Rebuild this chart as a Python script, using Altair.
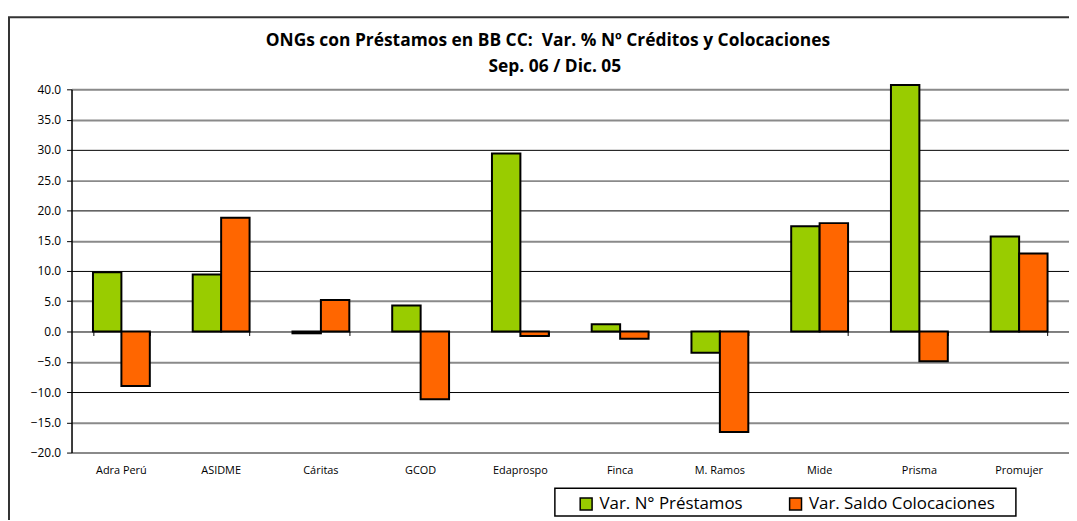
import altair as alt
import pandas as pd

categories = ["Adra Perú", "ASIDME", "Cáritas", "GCOD", "Edaprospo",
              "Finca", "M. Ramos", "Mide", "Prisma", "Promujer"]
series_names = ["Var. N° Préstamos", "Var. Saldo Colocaciones"]
prestamos = [9.8, 9.4, -0.3, 4.3, 29.4, 1.2, -3.5, 17.4, 40.7, 15.7]
saldo = [-9.0, 18.8, 5.2, -11.2, -0.75, -1.2, -16.6, 17.9, -4.9, 12.9]
y_ticks = [-20, -15, -10, -5, 0, 5, 10, 15, 20, 25, 30, 35, 40]
colors = ["#99CC00", "#FF6600"]
title_lines = ["ONGs con Préstamos en BB CC:\u00a0 Var. % Nº Créditos y Colocaciones",
               "Sep. 06 / Dic. 05"]

rows = []
for c, p, s in zip(categories, prestamos, saldo):
    rows.append({"ong": c, "serie": series_names[0], "valor": p})
    rows.append({"ong": c, "serie": series_names[1], "valor": s})
df = pd.DataFrame(rows)

W, H = 1005, 366
FONT = "Open Sans"
zero_px = H * 40 / 60

x_scale = alt.Scale(domain=categories, paddingInner=0.43, paddingOuter=0.215)
grid_test = "datum.value % 10 === 0 && datum.value > -20 && datum.value < 40"

frame = alt.Chart().mark_rect(fillOpacity=0, stroke="#333333", strokeWidth=2).encode(
    x=alt.value(-63), x2=alt.value(1200), y=alt.value(-72.5), y2=alt.value(700)
)
legend_box = alt.Chart().mark_rect(fillOpacity=0, stroke="black", strokeWidth=1.5).encode(
    x=alt.value(487), x2=alt.value(951.5), y=alt.value(402), y2=alt.value(430)
)
title1 = alt.Chart().mark_text(font=FONT, fontSize=17.5, fontWeight="bold", color="black",
                               align="center", baseline="middle").encode(
    x=alt.value(480), y=alt.value(-49), text=alt.value(title_lines[0])
)
title2 = alt.Chart().mark_text(font=FONT, fontSize=17.5, fontWeight="bold", color="black",
                               align="center", baseline="middle").encode(
    x=alt.value(487), y=alt.value(-22.5), text=alt.value(title_lines[1])
)

bars = alt.Chart(df).mark_bar(stroke="black", strokeWidth=2).encode(
    x=alt.X("ong:N", scale=x_scale, sort=categories,
            axis=alt.Axis(title=None, orient="bottom", labelAngle=0, labelFontSize=11,
                          labelColor="black", labelFont=FONT, labelPadding=12,
                          ticks=False, domain=False, grid=False)),
    xOffset=alt.XOffset("serie:N", sort=series_names,
                        scale=alt.Scale(domain=series_names, paddingInner=0, paddingOuter=0)),
    y=alt.Y("valor:Q", scale=alt.Scale(domain=[-20, 40], nice=False, zero=False),
            axis=alt.Axis(title=None, values=y_ticks, format=".1f", labelFontSize=12,
                          labelFont=FONT, labelColor="black", labelPadding=6,
                          tickColor="black", tickSize=5, tickWidth=1,
                          domainColor="black", domainWidth=1.5,
                          grid=True,
                          gridColor={"condition": {"test": grid_test, "value": "black"},
                                     "value": "#8a8a8a"},
                          gridWidth={"condition": {"test": grid_test, "value": 1},
                                     "value": 2},
                          gridOpacity=1)),
    color=alt.Color("serie:N", sort=series_names,
                    scale=alt.Scale(domain=series_names, range=colors),
                    legend=alt.Legend(title=None, orient="none", legendX=510, legendY=409,
                                      direction="horizontal", symbolType="square",
                                      symbolSize=144, symbolStrokeColor="black",
                                      symbolStrokeWidth=1.5, symbolOpacity=1,
                                      labelFontSize=17, labelFont=FONT, labelColor="black",
                                      labelLimit=400, labelOffset=5, columnPadding=43,
                                      padding=0)),
)

zero_axis = alt.Chart(df).mark_point(opacity=0).encode(
    x=alt.X("ong:N", scale=x_scale, sort=categories,
            axis=alt.Axis(title=None, orient="bottom", offset=-(H - zero_px), labels=False,
                          domain=False, ticks=True, tickSize=4, tickColor="black",
                          tickWidth=1, tickBand="extent", grid=False)),
    y=alt.value(0),
)

chart = alt.layer(frame, legend_box, title1, title2, bars, zero_axis).resolve_axis(
    x="independent"
).properties(
    width=W, height=H,
    autosize=alt.AutoSizeParams(type="none"),
    padding={"left": 64, "top": 80, "right": 0, "bottom": 66},
).configure_view(stroke=None).configure(background="white")

chart.save("out.html", embed_options={"renderer": "svg", "actions": False})
